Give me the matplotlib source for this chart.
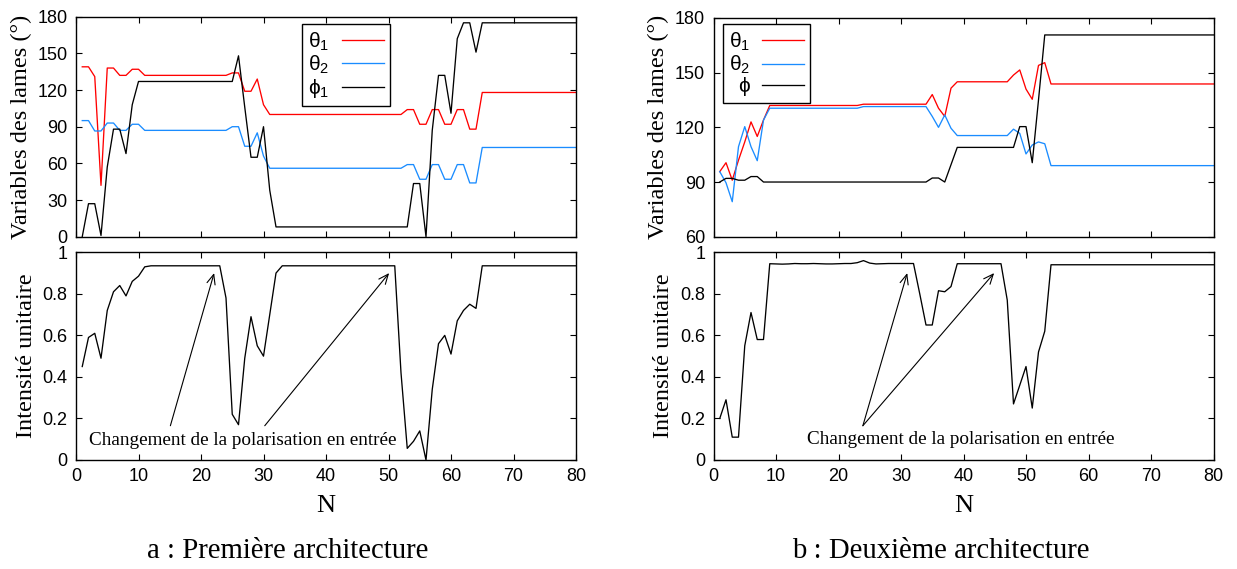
# two-panel recreation: wave-plate variables and unit intensity vs N
import matplotlib
matplotlib.use('Agg')
import matplotlib.pyplot as plt
import numpy as np

plt.rcParams['font.family'] = 'Liberation Sans'
plt.rcParams['mathtext.fontset'] = 'custom'
plt.rcParams['mathtext.rm'] = 'Liberation Sans'
plt.rcParams['mathtext.default'] = 'regular'

N = list(range(1, 81))

# --- a : first architecture ---
theta1_a = ([139, 139, 131, 42, 138, 138, 132, 132, 137, 137] + [132] * 14
            + [134, 134, 119, 119, 129, 108] + [100] * 22
            + [104, 104, 92, 92, 104, 104, 92, 92, 104, 104, 88, 88] + [118] * 16)
theta2_a = ([95, 95, 86.5, 86.5, 93, 93, 87, 87, 92, 92] + [87] * 14
            + [90, 90, 74, 74, 85, 66] + [56] * 22
            + [59, 59, 47, 47, 59, 59, 47, 47, 59, 59, 44, 44] + [73] * 16)
phi1_a = ([0, 27, 27, 1, 57, 88, 88, 68, 108] + [127] * 16
          + [148, 106, 65, 65, 90, 38] + [8] * 22
          + [43.5, 43.5, 0, 87, 132, 132, 101, 162, 175, 175, 151] + [175] * 16)
intens_a = ([0.45, 0.59, 0.61, 0.49, 0.72, 0.81, 0.84, 0.79, 0.86, 0.885, 0.93] + [0.935] * 12
            + [0.78, 0.22, 0.17, 0.49, 0.69, 0.55, 0.50, 0.70, 0.90] + [0.935] * 19
            + [0.42, 0.056, 0.09, 0.14, 0.0, 0.34, 0.56, 0.60, 0.51, 0.67, 0.72, 0.75, 0.73]
            + [0.935] * 16)

# --- b : second architecture ---
theta1_b = ([95.7, 100.6, 91, 102, 112, 123, 115, 124] + [132] * 15 + [132.7] * 11
            + [138, 130.5, 126, 141.5] + [145] * 9
            + [148.7, 151.5, 141, 135.4, 154, 155.5] + [143.8] * 27)
theta2_b = ([95.7, 89.6, 79.2, 109.4, 120.4, 109.4, 101.7, 124] + [130.5] * 15 + [131.4] * 11
            + [126, 120, 126.8, 119.5] + [115.5] * 9
            + [119, 116.7, 105.4, 110.3, 112, 111] + [99] * 27)
phi_b = ([90, 92, 92, 91, 91, 93, 93] + [90] * 27
         + [92.2, 92.2, 90, 99.5] + [109] * 10
         + [120.4, 120.4, 100.6, 135] + [170.7] * 28)
intens_b = ([0.20, 0.29, 0.11, 0.11, 0.55, 0.71, 0.58, 0.58]
            + [0.945, 0.944, 0.943, 0.944, 0.946, 0.945, 0.945, 0.946, 0.945, 0.944,
               0.944, 0.945, 0.946, 0.946, 0.950, 0.960, 0.948, 0.944, 0.945, 0.946,
               0.946, 0.946, 0.946, 0.946]
            + [0.80, 0.65, 0.65, 0.815, 0.81, 0.835] + [0.945] * 8
            + [0.77, 0.27, 0.36, 0.45, 0.25, 0.52, 0.62] + [0.94] * 27)

labels_a = [r'θ$_1$', r'θ$_2$', r'ϕ$_1$']
labels_b = [r'θ$_1$', r'θ$_2$', 'ϕ']
red, blue = '#ff0000', '#1a8cff'
serif = 'Liberation Serif'
note = 'Changement de la polarisation en entrée'

fig = plt.figure(figsize=(12.37, 5.69), dpi=100)
W, H = 1237, 569


def box(x0, x1, ytop, ybot):
    return [x0 / W, 1 - ybot / H, (x1 - x0) / W, (ybot - ytop) / H]


def style(ax):
    ax.tick_params(direction='in', top=True, right=True, length=4, width=0.8,
                   labelsize=13, pad=6)
    for s in ax.spines.values():
        s.set_linewidth(1.0)
    ax.set_xlim(0, 80)
    ax.set_xticks(range(0, 81, 10))


axes = {
    'a': (fig.add_axes(box(76, 576, 16.7, 236.7)), fig.add_axes(box(76, 576, 252.3, 460))),
    'b': (fig.add_axes(box(713.5, 1213.5, 18, 236.7)), fig.add_axes(box(713.5, 1213.5, 252.3, 460))),
}

series = {
    'a': (theta1_a, theta2_a, phi1_a, intens_a, labels_a, (0, 180), (0.452, 0.967)),
    'b': (theta1_b, theta2_b, phi_b, intens_b, labels_b, (60, 180), (0.018, 0.971)),
}

for key, (top, bot) in axes.items():
    t1, t2, ph, it, labs, ylim, legpos = series[key]
    lw = 0.95
    top.plot(N, t1, color=red, lw=lw, label=labs[0])
    top.plot(N, t2, color=blue, lw=lw, label=labs[1])
    top.plot(N, ph, color='black', lw=lw, label=labs[2])
    style(top)
    top.set_ylim(*ylim)
    top.set_yticks(range(ylim[0], 181, 30))
    top.set_xticklabels([])
    top.set_ylabel('Variables des lames (°)', family=serif, fontsize=17.5, labelpad=4)
    leg = top.legend(loc='upper left', bbox_to_anchor=legpos, borderaxespad=0,
                     markerfirst=False, fancybox=False, framealpha=1, edgecolor='black',
                     fontsize=15, handlelength=2.0, labelspacing=0.05, borderpad=0.3,
                     handletextpad=0.6)
    leg.get_frame().set_linewidth(1.0)

    bot.plot(N, it, color='black', lw=lw)
    style(bot)
    bot.set_ylim(0, 1)
    bot.set_yticks([0, 0.2, 0.4, 0.6, 0.8, 1])
    bot.set_yticklabels(['0', '0.2', '0.4', '0.6', '0.8', '1'])
    bot.set_ylabel('Intensité unitaire', family=serif, fontsize=17.5, labelpad=4)
    bot.set_xlabel('N', family=serif, fontsize=19, labelpad=7)

# arrows and notes
arrow = dict(arrowstyle='->,head_length=0.7,head_width=0.3', lw=0.8, color='black',
             shrinkA=0, shrinkB=0)
ba = axes['a'][1]
ba.annotate('', xy=(22.1, 0.9), xytext=(15.1, 0.165), arrowprops=arrow)
ba.annotate('', xy=(50.1, 0.9), xytext=(30.2, 0.165), arrowprops=arrow)
ba.text(26.7, 0.095, note, family=serif, fontsize=13.8, ha='center', va='center')

bb = axes['b'][1]
bb.annotate('', xy=(31.0, 0.9), xytext=(23.9, 0.165), arrowprops=arrow)
bb.annotate('', xy=(44.9, 0.9), xytext=(23.9, 0.165), arrowprops=arrow)
bb.text(39.6, 0.097, note, family=serif, fontsize=13.8, ha='center', va='center')

fig.text(288 / W, 1 - 551 / H, 'a : Première architecture', family=serif, fontsize=20.7,
         ha='center', va='center')
fig.text(941 / W, 1 - 551 / H, 'b : Deuxième architecture', family=serif, fontsize=20.7,
         ha='center', va='center')

fig.savefig('out.png', dpi=100)
